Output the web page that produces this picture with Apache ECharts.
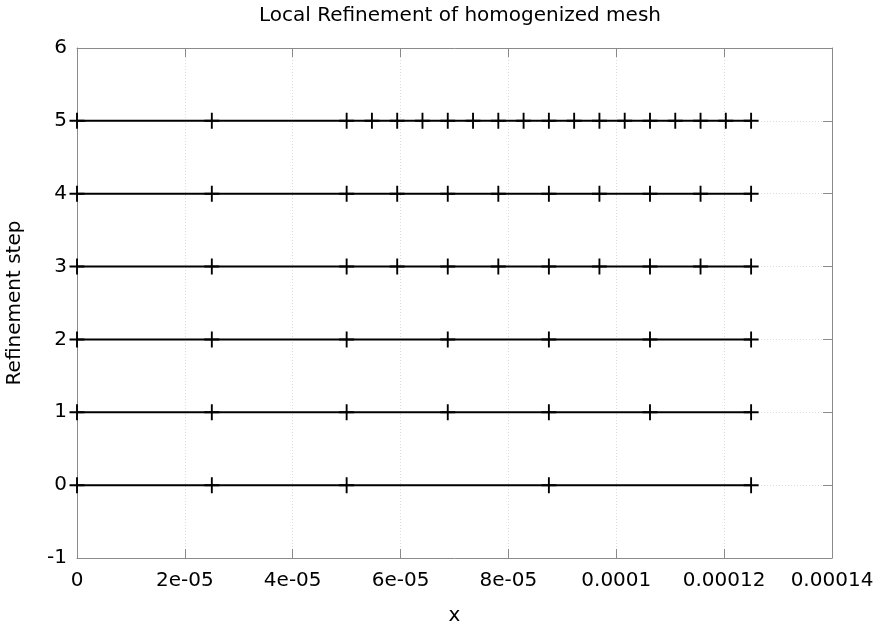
<!DOCTYPE html>
<html>
<head>
<meta charset="utf-8">
<script src="https://cdn.jsdelivr.net/npm/echarts@6/dist/echarts.min.js"></script>
<style>
  html, body { margin: 0; padding: 0; background: #fff; }
  #chart { width: 874px; height: 630px; }
</style>
</head>
<body>
<div id="chart"></div>
<script>
// Mesh node positions for each refinement step
const steps = [0, 1, 2, 3, 4, 5];
const nodes0 = [0, 2.5e-5, 5e-5, 8.75e-5, 1.25e-4];
const nodes1 = [0, 2.5e-5, 5e-5, 6.875e-5, 8.75e-5, 1.0625e-4, 1.25e-4];
const nodes2 = [0, 2.5e-5, 5e-5, 6.875e-5, 8.75e-5, 1.0625e-4, 1.25e-4];
const nodes3 = [0, 2.5e-5, 5e-5, 5.9375e-5, 6.875e-5, 7.8125e-5, 8.75e-5, 9.6875e-5, 1.0625e-4, 1.15625e-4, 1.25e-4];
const nodes4 = [0, 2.5e-5, 5e-5, 5.9375e-5, 6.875e-5, 7.8125e-5, 8.75e-5, 9.6875e-5, 1.0625e-4, 1.15625e-4, 1.25e-4];
const nodes5 = [0, 2.5e-5, 5e-5, 5.46875e-5, 5.9375e-5, 6.40625e-5, 6.875e-5, 7.34375e-5, 7.8125e-5, 8.28125e-5, 8.75e-5, 9.21875e-5, 9.6875e-5, 1.015625e-4, 1.0625e-4, 1.109375e-4, 1.15625e-4, 1.203125e-4, 1.25e-4];
const meshNodes = [nodes0, nodes1, nodes2, nodes3, nodes4, nodes5];

// Axis tick labels
const xTickLabels = ['0', '2e-05', '4e-05', '6e-05', '8e-05', '0.0001', '0.00012', '0.00014'];
const yTickLabels = ['-1', '0', '1', '2', '3', '4', '5', '6'];

const X_MIN = 0, X_MAX = 0.00014, X_STEP = 0.00002;
const Y_MIN = -1, Y_MAX = 6;

const FONT = 'DejaVu Sans';
const FS = 20;
const AXIS_GRAY = '#8a8a8a';
const GRID_GRAY = '#dcdcdc';

// plus-shaped node marker
const PLUS = 'path://M7,0 L9,0 L9,16 L7,16 Z M0,7 L16,7 L16,9 L0,9 Z';

const chart = echarts.init(document.getElementById('chart'), null, { renderer: 'canvas' });

const xLabel = v => {
  const i = Math.round((v - X_MIN) / X_STEP);
  return xTickLabels[i] !== undefined ? xTickLabels[i] : '';
};
const yLabel = v => {
  const i = Math.round(v - Y_MIN);
  return yTickLabels[i] !== undefined ? yTickLabels[i] : '';
};

const baseX = {
  type: 'value', min: X_MIN, max: X_MAX, interval: X_STEP,
  axisLine: { show: true, onZero: false, lineStyle: { color: AXIS_GRAY, width: 1 } },
  axisTick: { show: true, inside: true, length: 9, lineStyle: { color: AXIS_GRAY } },
};
const baseY = {
  type: 'value', min: Y_MIN, max: Y_MAX, interval: 1,
  axisLine: { show: true, onZero: false, lineStyle: { color: AXIS_GRAY, width: 1 } },
  axisTick: { show: true, inside: true, length: 9, lineStyle: { color: AXIS_GRAY } },
};

const series = steps.map((s, k) => ({
  type: 'line',
  name: 'step ' + s,
  xAxisIndex: 0,
  yAxisIndex: 0,
  data: meshNodes[k].map(x => [x, s]),
  symbol: PLUS,
  symbolSize: [15, 16],
  showSymbol: true,
  lineStyle: { color: '#000', width: 2 },
  itemStyle: { color: '#000' },
  emphasis: { disabled: true },
  animation: false,
  z: 5
}));

chart.setOption({
  backgroundColor: '#fff',
  animation: false,
  title: {
    text: 'Local Refinement of homogenized mesh',
    left: 455, top: 1, textAlign: 'center',
    textStyle: { fontFamily: FONT, fontSize: FS, fontWeight: 'normal', color: '#000' }
  },
  grid: { left: 77, right: 42, top: 48, bottom: 72, containLabel: false, outerBoundsMode: 'none' },
  xAxis: [
    Object.assign({}, baseX, {
      position: 'bottom',
      name: 'x', nameLocation: 'middle', nameGap: 48,
      nameTextStyle: { fontFamily: FONT, fontSize: FS, color: '#000' },
      axisLabel: { formatter: xLabel, fontFamily: FONT, fontSize: FS, color: '#000', margin: 13, showMaxLabel: true },
      splitLine: { show: true, lineStyle: { color: GRID_GRAY, type: [1, 2], width: 1 } }
    }),
    Object.assign({}, baseX, {
      position: 'top',
      axisLabel: { show: false },
      splitLine: { show: false }
    })
  ],
  yAxis: [
    Object.assign({}, baseY, {
      position: 'left',
      name: 'Refinement step', nameLocation: 'middle', nameGap: 52, nameRotate: 90,
      nameTextStyle: { fontFamily: FONT, fontSize: FS, color: '#000' },
      axisLabel: { formatter: yLabel, fontFamily: FONT, fontSize: FS, color: '#000', margin: 10 },
      splitLine: { show: true, lineStyle: { color: GRID_GRAY, type: [1, 2], width: 1 } }
    }),
    Object.assign({}, baseY, {
      position: 'right',
      axisLabel: { show: false },
      splitLine: { show: false }
    })
  ],
  series: series
});
</script>
</body>
</html>
